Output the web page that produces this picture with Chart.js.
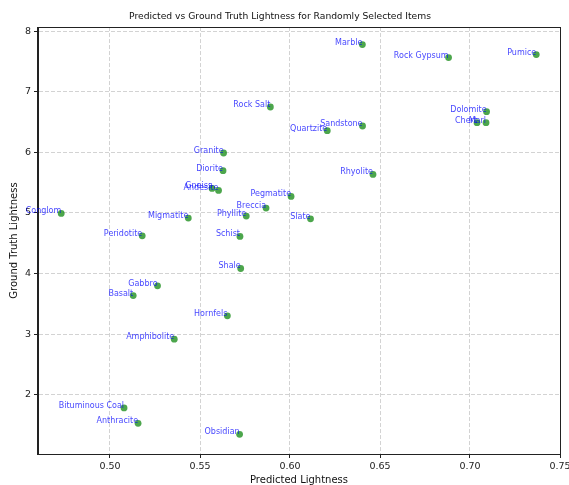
<!DOCTYPE html>
<html>
<head>
<meta charset="utf-8">
<title>Predicted vs Ground Truth Lightness</title>
<script src="https://cdn.jsdelivr.net/npm/chart.js@4.4.1/dist/chart.umd.min.js"></script>
<style>
  html, body { margin: 0; padding: 0; background: #ffffff; }
  canvas { display: block; }
</style>
</head>
<body>
<canvas id="lightnessChart" width="569" height="485"></canvas>
<script>
// rock / mineral names with predicted and measured lightness
const itemNames = [
  "Marble", "Rock Gypsum", "Pumice", "Dolomite", "Chert", "Marl",
  "Rock Salt", "Sandstone", "Quartzite", "Granite", "Diorite", "Rhyolite",
  "Gneiss", "Andesite", "Pegmatite", "Breccia", "Phyllite", "Slate",
  "Schist", "Conglom", "Migmatite", "Peridotite", "Shale", "Gabbro",
  "Basalt", "Hornfels", "Amphibolite", "Bituminous Coal", "Anthracite", "Obsidian"
];
const predicted = [
  0.6402, 0.6881, 0.7368, 0.7092, 0.7039, 0.7089,
  0.5891, 0.6403, 0.6207, 0.5631, 0.5628, 0.6461,
  0.5567, 0.5603, 0.6006, 0.5867, 0.5757, 0.6114,
  0.5722, 0.4729, 0.5435, 0.5179, 0.5726, 0.5264,
  0.5129, 0.5652, 0.5357, 0.5078, 0.5156, 0.5720
];
const groundTruth = [
  7.78, 7.565, 7.615, 6.673, 6.491, 6.491,
  6.750, 6.436, 6.359, 5.990, 5.698, 5.636,
  5.405, 5.372, 5.273, 5.081, 4.949, 4.904,
  4.612, 4.992, 4.916, 4.623, 4.083, 3.797,
  3.636, 3.301, 2.916, 1.780, 1.527, 1.345
];
const xTicks = [0.50, 0.55, 0.60, 0.65, 0.70, 0.75];
const yTicks = [2, 3, 4, 5, 6, 7, 8];

const FONT = '"DejaVu Sans", sans-serif';

// names written to the left of each marker, baseline on the point
const pointLabels = {
  id: 'pointLabels',
  afterDatasetsDraw(chart) {
    const {ctx, scales: {x, y}} = chart;
    ctx.save();
    ctx.font = '8px ' + FONT;
    ctx.fillStyle = 'rgba(0, 0, 255, 0.75)';
    ctx.textAlign = 'right';
    ctx.textBaseline = 'alphabetic';
    itemNames.forEach((name, i) => {
      ctx.fillText(name, x.getPixelForValue(predicted[i]), y.getPixelForValue(groundTruth[i]));
    });
    ctx.restore();
  }
};

// closed box around the plot (top and right spines too)
const frame = {
  id: 'frame',
  afterDatasetsDraw(chart) {
    const {ctx, chartArea: a} = chart;
    ctx.save();
    ctx.strokeStyle = '#222';
    ctx.lineWidth = 1;
    ctx.strokeRect(Math.round(a.left) - 0.5, Math.round(a.top) + 0.5,
                   Math.round(a.right - a.left) + 1, Math.round(a.bottom - a.top));
    ctx.restore();
  }
};

const ctx = document.getElementById('lightnessChart').getContext('2d');
new Chart(ctx, {
  type: 'scatter',
  data: {
    datasets: [{
      label: 'Items',
      data: predicted.map((p, i) => ({x: p, y: groundTruth[i]})),
      backgroundColor: 'rgba(0, 128, 0, 0.7)',
      borderColor: 'rgba(0, 128, 0, 0.7)',
      borderWidth: 0,
      pointRadius: 3.4
    }]
  },
  options: {
    responsive: false,
    animation: false,
    devicePixelRatio: 1,
    layout: { padding: { left: 0, right: 9, top: 0, bottom: 0 } },
    plugins: {
      legend: { display: false },
      tooltip: { enabled: false },
      title: {
        display: true,
        text: 'Predicted vs Ground Truth Lightness for Randomly Selected Items',
        color: '#111',
        font: { family: FONT, size: 9.2, weight: 'normal', lineHeight: 1.2 },
        padding: { top: 11.5, bottom: 4.5 }
      }
    },
    scales: {
      x: {
        type: 'linear',
        min: 0.46,
        max: 0.75,
        afterBuildTicks: s => { s.ticks = xTicks.map(v => ({value: v})); },
        afterFit: s => { s.height = 31; s.paddingLeft = 0; s.paddingRight = 0; },
        ticks: {
          color: '#222',
          padding: 3,
          maxRotation: 0,
          font: { family: FONT, size: 9.5 },
          callback: v => v.toFixed(2)
        },
        grid: {
          color: 'rgba(176, 176, 176, 0.7)',
          lineWidth: 0.8,
          tickColor: '#222',
          tickLength: 4,
          tickWidth: 1
        },
        border: { display: true, color: '#222', width: 1, dash: [4, 2] },
        title: {
          display: true,
          text: 'Predicted Lightness',
          color: '#111',
          font: { family: FONT, size: 10, lineHeight: 1 },
          padding: { top: 0, bottom: 0 }
        }
      },
      y: {
        type: 'linear',
        min: 1.02,
        max: 8.07,
        afterBuildTicks: s => { s.ticks = yTicks.map(v => ({value: v})); },
        afterFit: s => { s.width = 38; s.paddingTop = 0; s.paddingBottom = 0; },
        ticks: {
          color: '#222',
          padding: 3,
          font: { family: FONT, size: 9.5 },
          callback: v => String(v)
        },
        grid: {
          color: 'rgba(176, 176, 176, 0.7)',
          lineWidth: 0.8,
          tickColor: '#222',
          tickLength: 4,
          tickWidth: 1
        },
        border: { display: true, color: '#222', width: 1, dash: [4, 2] },
        title: {
          display: true,
          text: 'Ground Truth Lightness',
          color: '#111',
          font: { family: FONT, size: 10, lineHeight: 1 },
          padding: { top: 9, bottom: 0 }
        }
      }
    }
  },
  plugins: [frame, pointLabels]
});
</script>
</body>
</html>
